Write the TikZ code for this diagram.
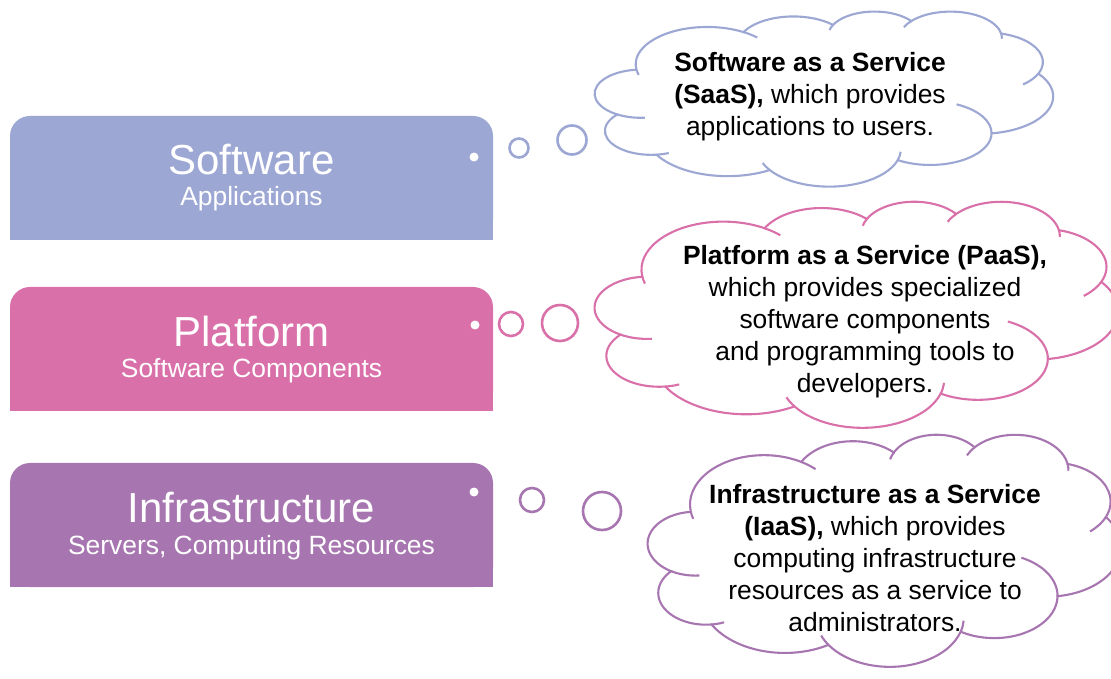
\documentclass[tikz,border=0pt]{standalone}
\usepackage{fontspec}
\setmainfont{Liberation Sans}
\definecolor{saasc}{HTML}{9CA7D4}
\definecolor{paasc}{HTML}{D970A9}
\definecolor{iaasc}{HTML}{A775B0}
\tikzset{
  layerbox/.style={rectangle, rounded corners=20pt, minimum width=483pt, minimum height=124pt, inner sep=0pt, draw=none},
  titletext/.style={font=\fontsize{42}{48}\selectfont, text=white, inner sep=0pt, anchor=base},
  subtext/.style={font=\fontsize{26.4}{32}\selectfont, text=white, inner sep=0pt, anchor=base},
  cloudtext/.style={font=\fontsize{26.4}{32}\selectfont, text=black, inner sep=0pt, anchor=base},
  cloudline/.style={line width=2.1pt},
  bubble/.style={circle, draw, line width=2.6pt, fill=white, inner sep=0pt},
  whitedot/.style={circle, fill=white, inner sep=0pt, minimum size=9pt},
}
\newcommand\cldinner[7]{%
  \draw[cloudline, draw=#7] ({\cldx+(#1+#3*cos(#5))*\cldsx},{\cldy-(#2+#4*sin(#5))*\cldsy})
    arc[start angle={-(#5)}, end angle={-(#6)}, x radius={#3*\cldsx*1pt}, y radius={#4*\cldsy*1pt}];}
\newcommand\drawcloud[5]{%
  \pgfmathsetmacro\cldx{#1}\pgfmathsetmacro\cldy{#2}%
  \pgfmathsetmacro\cldsx{#3/43.2}\pgfmathsetmacro\cldsy{#4/43.2}%
  \filldraw[cloudline, draw=#5, fill=white]
    ({\cldx+3.9*\cldsx},{\cldy-14.37*\cldsy})
    arc[start angle=-172.255, end angle=-300.37, x radius={6.753*\cldsx*1pt}, y radius={9.19*\cldsy*1pt}]
    arc[start angle=152.02, end angle=45.46, x radius={5.333*\cldsx*1pt}, y radius={7.267*\cldsy*1pt}]
    arc[start angle=153.50, end angle=37.32, x radius={4.365*\cldsx*1pt}, y radius={5.945*\cldsy*1pt}]
    arc[start angle=139.71, end angle=10.21, x radius={4.857*\cldsx*1pt}, y radius={6.595*\cldsy*1pt}]
    arc[start angle=74.77, end angle=-23.22, x radius={5.333*\cldsx*1pt}, y radius={7.273*\cldsy*1pt}]
    arc[start angle=37.52, end angle=-81.86, x radius={6.775*\cldsx*1pt}, y radius={9.22*\cldsy*1pt}]
    arc[start angle=-0.46, end angle=-121.98, x radius={5.785*\cldsx*1pt}, y radius={7.867*\cldsy*1pt}]
    arc[start angle=-16.845, end angle=-146.24, x radius={6.752*\cldsx*1pt}, y radius={9.215*\cldsy*1pt}]
    arc[start angle=-58.98, end angle=-150.20, x radius={7.72*\cldsx*1pt}, y radius={10.543*\cldsy*1pt}]
    arc[start angle=-83.31, end angle=-223.11, x radius={4.36*\cldsx*1pt}, y radius={5.918*\cldsy*1pt}]
    arc[start angle=-120.35, end angle=-264.11, x radius={4.345*\cldsx*1pt}, y radius={5.945*\cldsy*1pt}]
    -- cycle;
  \cldinner{4.309}{20.418}{4.345}{5.945}{84.9}{120.35}{#5}
  \cldinner{5.296}{29.592}{4.36}{5.918}{67.6}{83.31}{#5}
  \cldinner{22.094}{34.145}{6.752}{9.215}{146.24}{158.47}{#5}
  \cldinner{22.094}{34.145}{6.752}{9.215}{3.8}{16.845}{#5}
  \cldinner{31.62}{30.142}{5.785}{7.867}{-64.6}{0.46}{#5}
  \cldinner{36.919}{12.597}{5.333}{7.273}{23.22}{49.65}{#5}
  \cldinner{33.54}{6.748}{4.857}{6.595}{-10.21}{0.83}{#5}
  \cldinner{33.54}{6.748}{4.857}{6.595}{-155.2}{-139.71}{#5}
  \cldinner{26.363}{6.086}{4.365}{5.945}{-166.7}{-153.5}{#5}
  \cldinner{10.591}{13.131}{6.753}{9.19}{-59.63}{-45.74}{#5}
  \cldinner{10.591}{13.131}{6.753}{9.19}{163.19}{172.255}{#5}
}
\begin{document}
\begin{tikzpicture}[x=1pt, y=1pt]
\useasboundingbox (0,0) rectangle (1111,678);
\fill[white] (0,0) rectangle (1111,678);

% layer boxes
\node[layerbox, fill=saasc] (sw) at (251.5,500) {};
\fill[saasc] (sw.south west) rectangle ([yshift=40pt]sw.south east);
\node[layerbox, fill=paasc] (pf) at (251.5,329) {};
\fill[paasc] (pf.south west) rectangle ([yshift=40pt]pf.south east);
\node[layerbox, fill=iaasc] (in) at (251.5,153) {};
\fill[iaasc] (in.south west) rectangle ([yshift=40pt]in.south east);

\node[titletext] (swt) at (251.5,503) {Software};
\node[subtext] (sws) at (251.5,472) {Applications};
\node[titletext] (pft) at (251.5,331) {Platform};
\node[subtext] (pfs) at (251.5,300) {Software Components};
\node[titletext] (int) at (251.5,156) {Infrastructure};
\node[subtext] (ins) at (251.5,124) {Servers, Computing Resources};

% dots and thought bubbles
\node[whitedot] (d1) at (474,521) {};
\node[whitedot] (d2) at (475,353) {};
\node[whitedot] (d3) at (474,186) {};
\node[bubble, draw=saasc, minimum size=19pt] (s1) at (519,530) {};
\node[bubble, draw=saasc, minimum size=29pt] (s2) at (572,538) {};
\node[bubble, draw=paasc, minimum size=24pt] (p1) at (511,354) {};
\node[bubble, draw=paasc, minimum size=36pt] (p2) at (560,355) {};
\node[bubble, draw=iaasc, minimum size=24pt] (i1) at (532,178) {};
\node[bubble, draw=iaasc, minimum size=38pt] (i2) at (602,167) {};

% clouds
\drawcloud{595}{667}{458}{175}{saasc}
\drawcloud{595}{477}{523}{226}{paasc}
\drawcloud{648}{244}{473}{232}{iaasc}

\node[cloudtext] (sa1) at (810,606) {\textbf{Software as a Service}};
\node[cloudtext] (sa2) at (810,574) {\textbf{(SaaS),} which provides};
\node[cloudtext] (sa3) at (810,542) {applications to users.};

\node[cloudtext] (pa1) at (865,413) {\textbf{Platform as a Service (PaaS),}};
\node[cloudtext] (pa2) at (865,381) {which provides specialized};
\node[cloudtext] (pa3) at (865,349) {software components};
\node[cloudtext] (pa4) at (865,317) {and programming tools to};
\node[cloudtext] (pa5) at (865,285) {developers.};

\node[cloudtext] (ia1) at (875,175) {\textbf{Infrastructure as a Service}};
\node[cloudtext] (ia2) at (875,143) {\textbf{(IaaS),} which provides};
\node[cloudtext] (ia3) at (875,111) {computing infrastructure};
\node[cloudtext] (ia4) at (875,79) {resources as a service to};
\node[cloudtext] (ia5) at (875,47) {administrators.};
\end{tikzpicture}
\end{document}
